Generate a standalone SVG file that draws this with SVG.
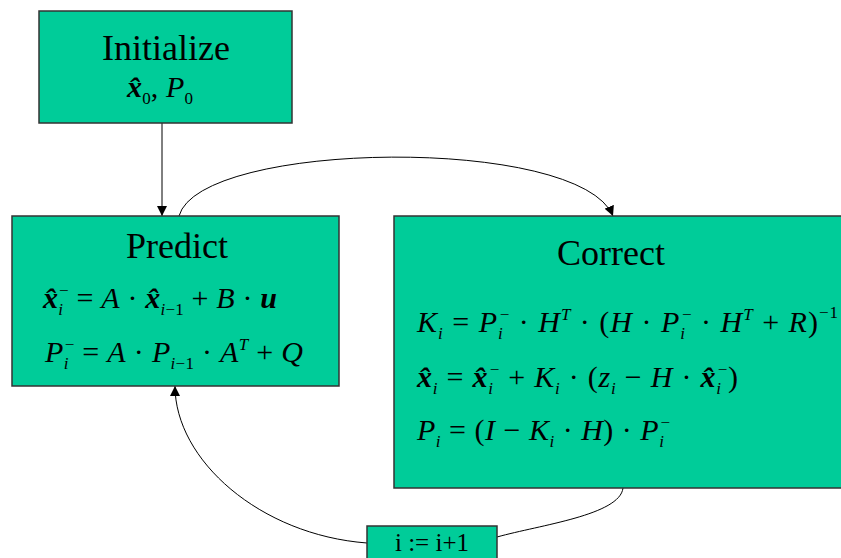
<svg xmlns="http://www.w3.org/2000/svg" width="841" height="558" viewBox="0 0 841 558">
<defs>
<style>
.box{fill:#00CC99;stroke:#333;stroke-width:1.5}
.title{font-family:"Liberation Serif","Times New Roman",serif;font-size:36px;fill:#000;text-anchor:middle}
.eq{font-family:"Liberation Serif","Times New Roman",serif;font-size:30px;font-style:italic;fill:#000}
.n{font-style:normal}
.b{font-weight:bold}
.s{font-size:17px}
.con{fill:none;stroke:#000;stroke-width:1}
</style>
<marker id="ah" viewBox="0 0 10 10" refX="10" refY="5" markerWidth="10" markerHeight="10" markerUnits="userSpaceOnUse" orient="auto">
<path d="M0,0 L10,5 L0,10 z" fill="#000"/>
</marker>
</defs>
<g id="connectors">
<line class="con" x1="162" y1="123" x2="162" y2="216" marker-end="url(#ah)"/>
<path class="con" d="M179,216 C200,140 580,135 613,216" marker-end="url(#ah)"/>
<path class="con" d="M367,543 C260,535 175,460 175,386" marker-end="url(#ah)"/>
<path class="con" d="M623,488 C620,515 540,525 497,537"/>
</g>
<g id="initialize">
<rect class="box" x="39" y="11" width="253" height="112"/>
<text class="title" x="166" y="60">Initialize</text>
<text class="eq" x="127" y="97" textLength="66" lengthAdjust="spacing"><tspan class="b">x̂</tspan><tspan class="s n" dy="7">0</tspan><tspan dy="-7" class="n">, </tspan>P<tspan class="s n" dy="7">0</tspan></text>
</g>
<g id="predict">
<rect class="box" x="12" y="216" width="327" height="170"/>
<text class="title" x="177" y="258">Predict</text>
<text class="eq" x="43" y="308" textLength="234" lengthAdjust="spacing"><tspan class="b">x̂</tspan><tspan class="s" dy="7">i</tspan><tspan class="s n" dx="-4" dy="-19">−</tspan><tspan class="n" dy="12"> = </tspan>A<tspan class="n"> · </tspan><tspan class="b">x̂</tspan><tspan class="s" dy="7">i</tspan><tspan class="s n">−1</tspan><tspan class="n" dy="-7"> + </tspan>B<tspan class="n"> · </tspan><tspan class="b">u</tspan></text>
<text class="eq" x="45" y="362" textLength="258" lengthAdjust="spacing">P<tspan class="s" dy="7">i</tspan><tspan class="s n" dx="-4" dy="-19">−</tspan><tspan class="n" dy="12"> = </tspan>A<tspan class="n"> · </tspan>P<tspan class="s" dy="7">i</tspan><tspan class="s n">−1</tspan><tspan class="n" dy="-7"> · </tspan>A<tspan class="s" dy="-12">T</tspan><tspan class="n" dy="12"> + </tspan>Q</text>
</g>
<g id="correct">
<rect class="box" x="394" y="216" width="460" height="272"/>
<text class="title" x="611" y="265">Correct</text>
<text class="eq" x="417" y="332" textLength="421" lengthAdjust="spacing">K<tspan class="s" dy="7">i</tspan><tspan class="n" dy="-7"> = </tspan>P<tspan class="s" dy="7">i</tspan><tspan class="s n" dx="-4" dy="-19">−</tspan><tspan class="n" dy="12"> · </tspan>H<tspan class="s" dy="-12">T</tspan><tspan class="n" dy="12"> · (</tspan>H<tspan class="n"> · </tspan>P<tspan class="s" dy="7">i</tspan><tspan class="s n" dx="-4" dy="-19">−</tspan><tspan class="n" dy="12"> · </tspan>H<tspan class="s" dy="-12">T</tspan><tspan class="n" dy="12"> + </tspan>R<tspan class="n">)</tspan><tspan class="s n" dy="-14">−1</tspan></text>
<text class="eq" x="417" y="387" textLength="321" lengthAdjust="spacing"><tspan class="b">x̂</tspan><tspan class="s" dy="7">i</tspan><tspan class="n" dy="-7"> = </tspan><tspan class="b">x̂</tspan><tspan class="s" dy="7">i</tspan><tspan class="s n" dx="-4" dy="-19">−</tspan><tspan class="n" dy="12"> + </tspan>K<tspan class="s" dy="7">i</tspan><tspan class="n" dy="-7"> · (</tspan>z<tspan class="s" dy="7">i</tspan><tspan class="n" dy="-7"> − </tspan>H<tspan class="n"> · </tspan><tspan class="b">x̂</tspan><tspan class="s" dy="7">i</tspan><tspan class="s n" dx="-4" dy="-19">−</tspan><tspan class="n" dy="12">)</tspan></text>
<text class="eq" x="417" y="440" textLength="253" lengthAdjust="spacing">P<tspan class="s" dy="7">i</tspan><tspan class="n" dy="-7"> = (</tspan>I<tspan class="n"> − </tspan>K<tspan class="s" dy="7">i</tspan><tspan class="n" dy="-7"> · </tspan>H<tspan class="n">) · </tspan>P<tspan class="s" dy="7">i</tspan><tspan class="s n" dx="-4" dy="-19">−</tspan></text>
</g>
<g id="increment">
<rect class="box" x="367" y="526" width="130" height="40"/>
<text class="title" x="432" y="551" style="font-size:25px">i := i+1</text>
</g>
</svg>
